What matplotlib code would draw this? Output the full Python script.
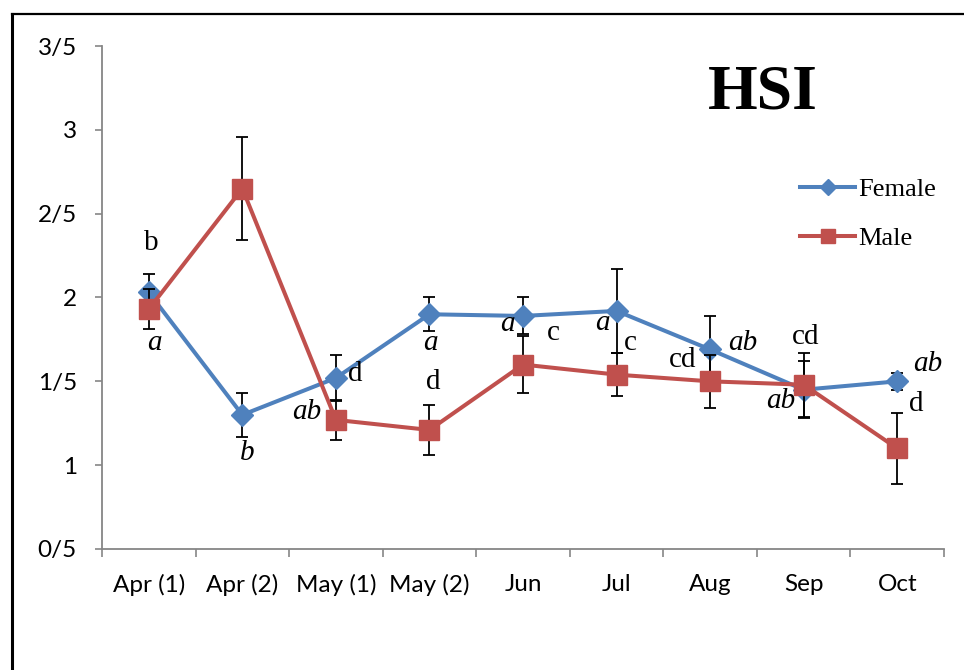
import matplotlib
matplotlib.use('Agg')
import matplotlib.pyplot as plt
from matplotlib.lines import Line2D
import numpy as np

# HSI by sampling period, mean +/- SE
months = ['Apr (1)', 'Apr (2)', 'May (1)', 'May (2)', 'Jun', 'Jul', 'Aug', 'Sep', 'Oct']
female = [2.03, 1.30, 1.52, 1.90, 1.89, 1.92, 1.69, 1.45, 1.50]
female_err = [0.11, 0.13, 0.14, 0.10, 0.11, 0.25, 0.20, 0.17, 0.05]
male = [1.93, 2.65, 1.27, 1.21, 1.60, 1.54, 1.50, 1.48, 1.10]
male_err = [0.12, 0.31, 0.12, 0.15, 0.17, 0.13, 0.16, 0.19, 0.21]
female_letters = ['a', 'b', 'ab', 'a', 'a', 'a', 'ab', 'ab', 'ab']
male_letters = ['b', '', 'd', 'd', 'c', 'c', 'cd', 'cd', 'd']
yticks = [0.5, 1, 1.5, 2, 2.5, 3, 3.5]
ytick_labels = ['0/5', '1', '1/5', '2', '2/5', '3', '3/5']

# letter offsets from the marker, in pixels
female_offsets = [(6, -51), (5, -38), (-29, -34), (1, -29), (-16, -8),
                  (-14, -12), (33, 6), (-23, -11), (31, 17)]
male_offsets = [(2, 66), (0, 0), (19, 46), (4, 48), (30, 32),
                (14, 32), (-27, 21), (2, 48), (19, 44)]

blue = '#4F81BD'
red = '#C0504D'
gray = '#868686'
serif = 'Liberation Serif'
sans = 'Lato'

fig = plt.figure(figsize=(9.64, 6.70), dpi=100)
W, H = 964, 670
ax = fig.add_axes([102 / W, 1 - 549 / H, (944 - 102) / W, (549 - 46) / H])

x = np.arange(len(months))

ax.errorbar(x, female, yerr=female_err, fmt='none', ecolor='black',
            elinewidth=1.3, capsize=4, capthick=1.3, zorder=2)
ax.plot(x, female, color=blue, lw=2.9, marker='D', markersize=11,
        label='Female', zorder=3)
ax.errorbar(x, male, yerr=male_err, fmt='none', ecolor='black',
            elinewidth=1.3, capsize=4, capthick=1.3, zorder=4)
ax.plot(x, male, color=red, lw=2.9, marker='s', markersize=14,
        label='Male', zorder=5)

for i in range(len(months)):
    if female_letters[i]:
        ax.annotate(female_letters[i], (x[i], female[i]), xytext=female_offsets[i],
                    textcoords='offset pixels', ha='center', va='center',
                    fontsize=21, family=serif, style='italic', zorder=6)
    if male_letters[i]:
        ax.annotate(male_letters[i], (x[i], male[i]), xytext=male_offsets[i],
                    textcoords='offset pixels', ha='center', va='center',
                    fontsize=21, family=serif, zorder=6)

ax.set_xlim(-0.5, len(months) - 0.5)
ax.set_ylim(0.5, 3.5)
ax.set_yticks(yticks)
ax.set_yticklabels(ytick_labels, family=sans, fontsize=17.5)
ax.set_xticks(x)
ax.set_xticklabels(months, family=sans, fontsize=17.5)
ax.set_xticks(np.arange(-0.5, len(months)), minor=True)
ax.tick_params(axis='x', which='major', length=0, pad=18)
ax.tick_params(axis='x', which='minor', length=6, width=1.2, color=gray)
ax.tick_params(axis='y', length=5, width=1.2, color=gray, pad=13)

for side in ['top', 'right']:
    ax.spines[side].set_visible(False)
for side in ['left', 'bottom']:
    ax.spines[side].set_color(gray)
    ax.spines[side].set_linewidth(1.3)

ax.text(0.785, 0.905, 'HSI', transform=ax.transAxes, ha='center', va='center',
        fontsize=46, fontweight='bold', family=serif)

ax.legend(loc='upper left', bbox_to_anchor=(0.829, 0.738), frameon=False,
          prop={'family': serif, 'size': 19}, handlelength=2.1, markerscale=0.75,
          handletextpad=0.1, labelspacing=0.95, borderpad=0, borderaxespad=0)

# outer frame (only top and left edges fall inside the image)
fig.add_artist(Line2D([12 / W, 1], [1 - 14 / H, 1 - 14 / H], color='black',
                      lw=1.6, transform=fig.transFigure))
fig.add_artist(Line2D([12 / W, 12 / W], [0, 1 - 14 / H], color='black',
                      lw=2.2, transform=fig.transFigure))

fig.savefig('out.png', dpi=100)
